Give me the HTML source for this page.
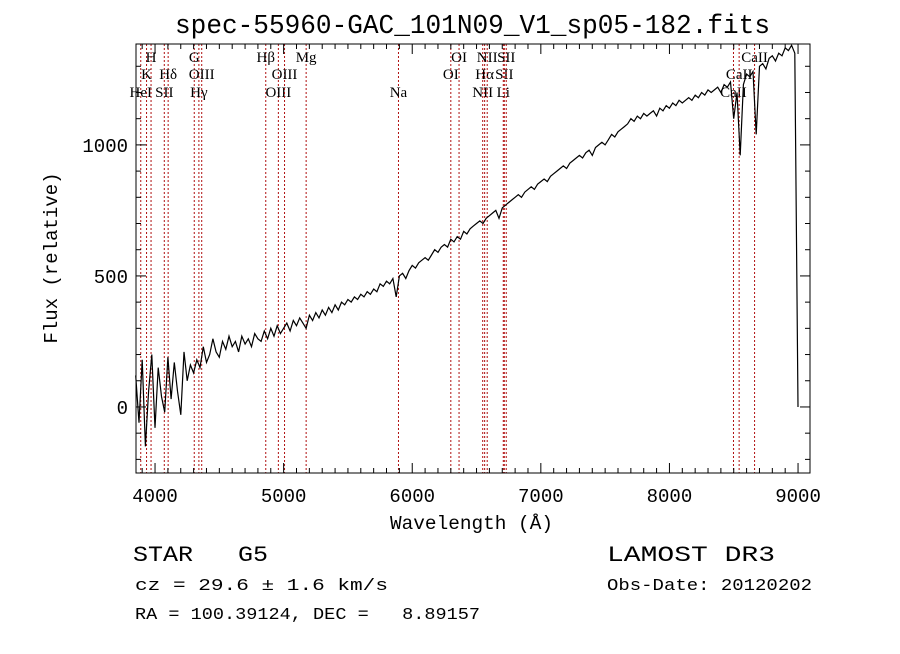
<!DOCTYPE html>
<html><head><meta charset="utf-8"><style>
body{margin:0;background:#fff;}
svg text{font-family:"Liberation Mono",monospace;fill:#000;white-space:pre;}
.ser{font-family:"Liberation Serif",serif !important;}
</style></head><body>
<svg id="chart" width="900" height="649" xmlns="http://www.w3.org/2000/svg" xml:space="preserve">
<rect width="900" height="649" fill="#fff"/>
<text x="175" y="33" font-size="27" textLength="595" lengthAdjust="spacingAndGlyphs">spec-55960-GAC_101N09_V1_sp05-182.fits</text>
<g id="lines"></g><g id="series"></g><g id="axes"></g>
<text x="390" y="529" font-size="19" textLength="163" lengthAdjust="spacingAndGlyphs">Wavelength (Å)</text>
<text transform="translate(57,258) rotate(-90)" font-size="19" text-anchor="middle">Flux (relative)</text>
<text x="133" y="561" font-size="22" textLength="135" lengthAdjust="spacingAndGlyphs">STAR   G5</text>
<text x="135" y="590" font-size="17" textLength="253" lengthAdjust="spacingAndGlyphs">cz = 29.6 ± 1.6 km/s</text>
<text x="135" y="619" font-size="17" textLength="345" lengthAdjust="spacingAndGlyphs">RA = 100.39124, DEC =   8.89157</text>
<text x="607" y="561" font-size="22" textLength="168" lengthAdjust="spacingAndGlyphs">LAMOST DR3</text>
<text x="607" y="590" font-size="17" textLength="205" lengthAdjust="spacingAndGlyphs">Obs-Date: 20120202</text>
</svg>
<script>
const waveStart = 3850, waveStep = 25;
const flux = [
120,-60,180,-150,60,200,-80,150,40,-20,190,30,170,60,-30,210,100,160,130,180,
150,230,170,200,260,210,190,250,220,270,230,250,210,270,240,260,230,280,260,250,
290,260,300,270,310,280,300,320,290,330,310,340,320,300,350,330,360,340,370,350,
380,360,390,370,400,390,410,400,420,410,430,420,440,430,450,440,470,460,480,470,
490,420,500,510,490,520,540,530,550,560,570,560,580,600,590,610,620,610,640,630,
650,640,670,660,680,690,700,710,700,720,730,740,750,720,760,770,780,790,800,810,
800,820,830,840,830,850,860,870,860,880,890,900,910,920,910,930,940,950,960,950,
970,980,960,990,1000,1010,1000,1020,1040,1030,1050,1060,1070,1080,1100,1090,1110,1100,1120,1110,
1120,1130,1110,1140,1130,1150,1140,1160,1150,1170,1160,1170,1180,1170,1190,1180,1200,1190,1210,1200,
1210,1220,1200,1230,1220,1240,1100,1200,960,1230,1270,1260,1280,1040,1300,1310,1290,1330,1340,1320,
1350,1340,1370,1360,1380,1350,0];
const lineNames = ["HeI","K","H","SII","Hδ","G","Hγ","OIII","Hβ","OIII","OIII","Mg","Na","OI","OI","NII","Hα","NII","Li","SII","SII","CaII","CaII","CaII"];
const lineWaves = [3889,3934,3969,4072,4102,4305,4341,4363,4861,4959,5007,5175,5893,6300,6364,6548,6563,6583,6708,6716,6731,8498,8542,8662];
const lineRows = [3,2,1,3,2,1,3,2,1,3,2,1,3,2,1,3,2,1,3,2,1,3,2,1];
const xTicks = [4000,5000,6000,7000,8000,9000];
const yTicks = [0,500,1000];
const L=136,R=810,T=44,B=473, w0=3852,w1=9093, f0=-252,f1=1385;
const X=w=>L+(w-w0)/(w1-w0)*(R-L);
const Y=f=>B-(f-f0)/(f1-f0)*(B-T);
const NS="http://www.w3.org/2000/svg";
function mk(t,a,p){const e=document.createElementNS(NS,t);for(const k in a)e.setAttribute(k,a[k]);p.appendChild(e);return e;}
const gl=document.getElementById('lines'),gs=document.getElementById('series'),ga=document.getElementById('axes');
const rowY={1:62,2:79,3:97};
lineWaves.forEach((w,i)=>{
  const l=mk('line',{x1:X(w),x2:X(w),y1:T,y2:B,stroke:'#b01010','stroke-width':1,'stroke-dasharray':'2,2'},gl);
  
  
  const t=mk('text',{x:X(w),y:rowY[lineRows[i]],'font-size':15,'text-anchor':'middle',class:'ser'},gl);
  t.textContent=lineNames[i];
  
  
});
const pts=flux.map((f,i)=>X(waveStart+i*waveStep).toFixed(1)+','+Y(f).toFixed(1)).join(' ');
const pl=mk('polyline',{points:pts,fill:'none',stroke:'#000','stroke-width':1.2},gs);


const fr=mk('rect',{x:L,y:T,width:R-L,height:B-T,fill:'none',stroke:'#000','stroke-width':1},ga);


for(let w=3900;w<=9000;w+=100){const maj=w%1000===0,len=maj?10:5;
  mk('line',{x1:X(w),x2:X(w),y1:B,y2:B-len,stroke:'#000'},ga);
  mk('line',{x1:X(w),x2:X(w),y1:T,y2:T+len,stroke:'#000'},ga);}
for(let f=-200;f<=1300;f+=100){const maj=f%500===0,len=maj?10:5;
  mk('line',{x1:L,x2:L+len,y1:Y(f),y2:Y(f),stroke:'#000'},ga);
  mk('line',{x1:R,x2:R-len,y1:Y(f),y2:Y(f),stroke:'#000'},ga);}
xTicks.forEach(v=>{const t=mk('text',{x:X(v),y:B+29,'font-size':19,'text-anchor':'middle'},ga);t.textContent=v;
  
  });
yTicks.forEach(v=>{const t=mk('text',{x:L-8,y:Y(v)+7,'font-size':19,'text-anchor':'end'},ga);t.textContent=v;
  
  });
</script>
</body></html>
